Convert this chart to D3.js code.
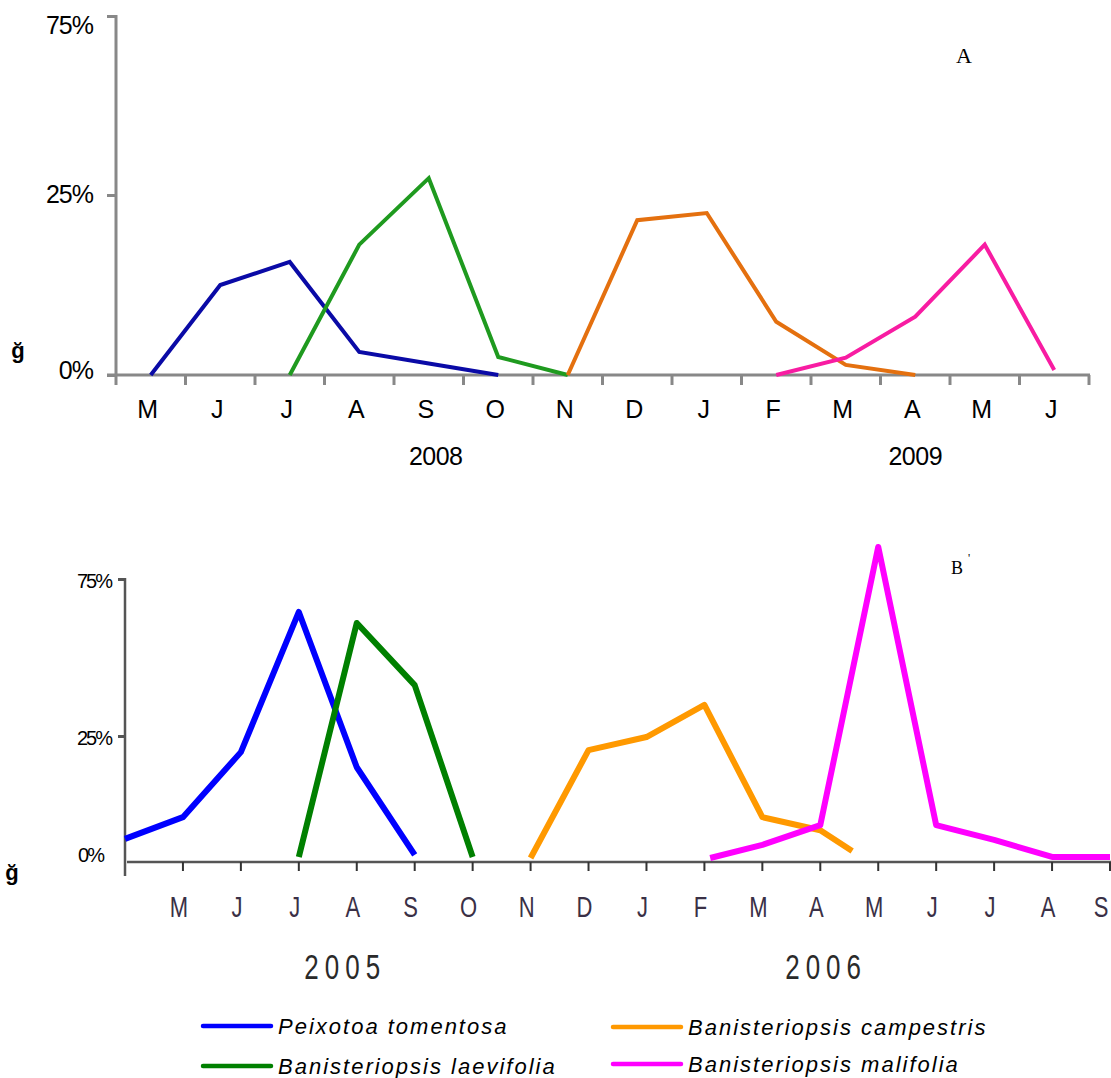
<!DOCTYPE html>
<html>
<head>
<meta charset="utf-8">
<script src="https://cdn.jsdelivr.net/npm/d3@7"></script>
<style>
  body { margin: 0; background: #fff; }
  text { font-family: "Liberation Sans", Arial, sans-serif; }
</style>
</head>
<body>
<script>
        //Width and height
        var width = 1111;
        var height = 1078;

        //panel A months (May 2008 - June 2009)
        var monthsA = ["M","J","J","A","S","O","N","D","J","F","M","A","M","J"];
        var yearsA = [{label: "2008", at: 4.1}, {label: "2009", at: 11}];
        //[month index, percent]
        var peixotoaA = [[0,0],[1,12.5],[2,15.7],[3,3.2],[4,1.6],[5,0]];
        var laevifoliaA = [[2,0],[3,18.1],[4,29.7],[5,2.5],[6,0]];
        var campestrisA = [[6,0],[7,21.5],[8,22.5],[9,7.4],[10,1.4],[11,0]];
        var malifoliaA = [[9,0],[10,2.4],[11,8.1],[12,18.1],[13,0.7]];

        //panel B months (April 2005 - September 2006), index 0 = April
        var monthsB = ["","M","J","J","A","S","O","N","D","J","F","M","A","M","J","J","A","S"];
        var yearsB = [{label: "2005", at: 3.8}, {label: "2006", at: 12.1}];
        var peixotoaB = [[0,4.6],[1,8.9],[2,21.8],[3,64.5],[4,18.8],[5,1.4]];
        var laevifoliaB = [[3,1],[4,61],[5,41.2],[6,1]];
        var campestrisB = [[7,0.8],[8,22.2],[9,24.8],[10,34.9],[11,8.9],[12,6.3],[12.55,2.2]];
        var malifoliaB = [[10.1,0.8],[11,3.4],[12,7.3],[13,85.2],[14,7.3],[15,4.4],[16,1],[17,1]];

        //tick labels, both panels
        var yTicks = [0, 25, 75];

        //legend
        var species = ["Peixotoa tomentosa","Banisteriopsis laevifolia","Banisteriopsis campestris","Banisteriopsis malifolia"];

        var colorsA = ["#0a0aa6","#1f9a1f","#e4700f","#f81ca2"];
        var colorsB = ["#0000ff","#008000","#ff9900","#ff00ff"];

        var svg = d3.select("body")
                    .append("svg")
                    .attr("width", width)
                    .attr("height", height);

        // ---------------- panel A ----------------
        var xA = d3.scaleBand().domain(d3.range(monthsA.length)).range([116, 1089]);
        //the axis puts 25% halfway up, so the scale is two pieces
        var yA = d3.scaleLinear().domain(yTicks).range([375, 195, 16]);
        var cA = function(i) { return xA(Math.floor(i)) + xA.bandwidth() * (0.5 + i - Math.floor(i)); };

        var gA = svg.append("g");

        //y axis
        var axA = gA.append("g")
           .attr("transform", "translate(116,0)")
           .call(d3.axisLeft(yA).tickValues(yTicks).tickSize(9).tickPadding(14).tickFormat(function(d){ return d + "%"; }));
        axA.select(".domain").attr("stroke", "#888").attr("stroke-width", 3)
           .attr("d", "M0," + (yA(75) - 1) + "V" + yA(0));
        axA.selectAll(".tick line").attr("stroke", "#888").attr("stroke-width", 3);
        axA.selectAll(".tick text")
           .attr("font-size", "25px")
           .attr("letter-spacing", "-1px")
           .attr("font-family", "Liberation Sans, Arial, sans-serif")
           .attr("fill", "#000")
           .attr("dy", function(d){ return d == 75 ? "0.68em" : (d == 0 ? "0.15em" : "0.3em"); });

        //x axis line and ticks on the month borders
        gA.append("line")
           .attr("x1", 107).attr("x2", 1090)
           .attr("y1", yA(0)).attr("y2", yA(0))
           .attr("stroke", "#888").attr("stroke-width", 3);
        gA.selectAll(".xtickA")
           .data(d3.range(monthsA.length + 1))
           .enter()
           .append("line")
           .attr("x1", function(d){ return 116 + d * xA.step(); })
           .attr("x2", function(d){ return 116 + d * xA.step(); })
           .attr("y1", yA(0)).attr("y2", yA(0) + 10)
           .attr("stroke", "#888").attr("stroke-width", 3);

        gA.selectAll(".monthA")
           .data(monthsA)
           .enter()
           .append("text")
           .attr("x", function(d, i){ return cA(i) - 3; })
           .attr("y", 409)
           .attr("dominant-baseline", "central")
           .style("text-anchor", "middle")
           .attr("font-size", "25px")
           .text(function(d){ return d; });

        gA.selectAll(".yearA")
           .data(yearsA)
           .enter()
           .append("text")
           .attr("x", function(d){ return cA(d.at); })
           .attr("y", 456)
           .attr("dominant-baseline", "central")
           .style("text-anchor", "middle")
           .attr("font-size", "25px")
           .attr("letter-spacing", "-0.5px")
           .text(function(d){ return d.label; });

        var lineA = d3.line().x(function(d){ return cA(d[0]); }).y(function(d){ return yA(d[1]); });
        [peixotoaA, laevifoliaA, campestrisA, malifoliaA].forEach(function(s, k){
            gA.append("path")
               .attr("d", lineA(s))
               .attr("fill", "none")
               .attr("stroke", colorsA[k])
               .attr("stroke-width", 4)
               .attr("stroke-linejoin", "miter");
        });

        gA.append("text")
           .attr("x", 964).attr("y", 55)
           .attr("dominant-baseline", "central")
           .style("text-anchor", "middle")
           .style("font-family", "Liberation Serif, Times New Roman, serif")
           .attr("font-size", "22px")
           .text("A");

        //broken y title glyph
        gA.append("text")
           .attr("x", 18).attr("y", 350)
           .attr("dominant-baseline", "central")
           .style("text-anchor", "middle")
           .attr("font-size", "22px")
           .attr("font-weight", "bold")
           .text("ğ");

        // ---------------- panel B ----------------
        var xB = d3.scaleLinear().domain([0, monthsB.length - 1]).range([125, 1110]);
        var yB = d3.scaleLinear().domain(yTicks).range([862, 736, 579]);

        var gB = svg.append("g");

        var axB = gB.append("g")
           .attr("transform", "translate(125,0)")
           .call(d3.axisLeft(yB).tickValues(yTicks).tickSize(7).tickPadding(2).tickFormat(function(d){ return d + "%"; }));
        axB.select(".domain").attr("stroke", "#555").attr("stroke-width", 2.5)
           .attr("d", "M0," + (yB(75) - 1) + "V" + (yB(0) + 14));
        axB.selectAll(".tick line").attr("stroke", "#555").attr("stroke-width", 3)
           .attr("opacity", function(d){ return d == 0 ? 0 : 1; });
        axB.selectAll(".tick text")
           .attr("font-size", "20px")
           .attr("letter-spacing", "-2px")
           .attr("font-family", "Liberation Sans, Arial, sans-serif")
           .attr("fill", "#000")
           .attr("x", function(d){ return d == 0 ? -22 : -14; })
           .attr("dy", function(d){ return d == 0 ? "-0.05em" : "0.4em"; });

        gB.append("line")
           .attr("x1", 127).attr("x2", 1111)
           .attr("y1", yB(0)).attr("y2", yB(0))
           .attr("stroke", "#555").attr("stroke-width", 2.5);
        gB.selectAll(".xtickB")
           .data(d3.range(1, monthsB.length))
           .enter()
           .append("line")
           .attr("x1", function(d){ return xB(d); })
           .attr("x2", function(d){ return xB(d); })
           .attr("y1", yB(0)).attr("y2", yB(0) + 9)
           .attr("stroke", "#333").attr("stroke-width", 2);

        //bottom labels of B are drawn tall and narrow
        gB.selectAll(".monthB")
           .data(monthsB)
           .enter()
           .append("text")
           .attr("transform", function(d, i){ return "translate(" + Math.min(xB(i) - 4, 1101) + ",907) scale(1,1.35)"; })
           .attr("dominant-baseline", "central")
           .style("text-anchor", "middle")
           .attr("font-size", "22px")
           .attr("fill", "#3a3046")
           .text(function(d){ return d; });

        gB.selectAll(".yearB")
           .data(yearsB)
           .enter()
           .append("text")
           .attr("transform", function(d){ return "translate(" + xB(d.at) + ",967) scale(1,1.35)"; })
           .attr("dominant-baseline", "central")
           .style("text-anchor", "middle")
           .attr("font-size", "26px")
           .attr("letter-spacing", "6px")
           .attr("fill", "#2a2a2a")
           .text(function(d){ return d.label; });

        var lineB = d3.line().x(function(d){ return xB(d[0]); }).y(function(d){ return yB(d[1]); });
        [peixotoaB, laevifoliaB, campestrisB, malifoliaB].forEach(function(s, k){
            gB.append("path")
               .attr("d", lineB(s))
               .attr("fill", "none")
               .attr("stroke", colorsB[k])
               .attr("stroke-width", 6)
               .attr("stroke-linejoin", "round");
        });

        gB.append("text")
           .attr("x", 957).attr("y", 568)
           .attr("dominant-baseline", "central")
           .style("text-anchor", "middle")
           .style("font-family", "Liberation Serif, Times New Roman, serif")
           .attr("font-size", "18px")
           .text("B");
        gB.append("text")
           .attr("x", 968).attr("y", 562)
           .attr("font-size", "12px")
           .style("font-family", "Liberation Serif, Times New Roman, serif")
           .text("'");

        gB.append("text")
           .attr("x", 12).attr("y", 872)
           .attr("dominant-baseline", "central")
           .style("text-anchor", "middle")
           .attr("font-size", "22px")
           .attr("font-weight", "bold")
           .text("ğ");

        // ---------------- legend ----------------
        var legendPos = [[203, 1026], [203, 1066], [613, 1027], [613, 1064]];
        var leg = svg.selectAll(".legend")
           .data(species)
           .enter()
           .append("g")
           .attr("transform", function(d, i){ return "translate(" + legendPos[i][0] + "," + legendPos[i][1] + ")"; });
        leg.append("line")
           .attr("x1", 0).attr("x2", 68)
           .attr("stroke", function(d, i){ return colorsB[i]; })
           .attr("stroke-width", 4.5)
           .attr("stroke-linecap", "round");
        leg.append("text")
           .attr("x", 75)
           .attr("dominant-baseline", "central")
           .attr("font-size", "22px")
           .attr("font-style", "italic")
           .attr("letter-spacing", "2px")
           .text(function(d){ return d; });
</script>
</body>
</html>
